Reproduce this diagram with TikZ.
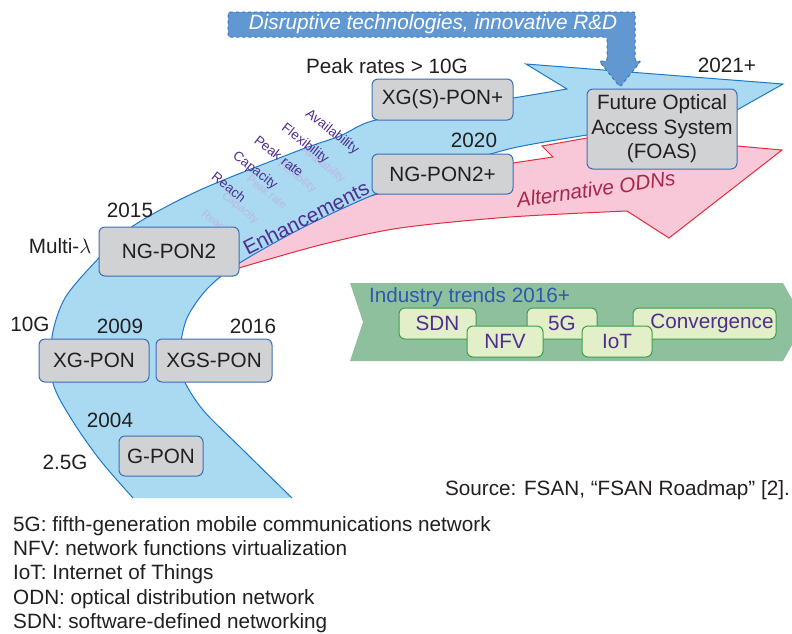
\documentclass[tikz,border=0pt]{standalone}
\usepackage{fontspec}
\setmainfont{Liberation Sans}
\definecolor{bandfill}{RGB}{170,217,242}
\definecolor{bandline}{RGB}{30,120,200}
\definecolor{pinkfill}{RGB}{248,200,216}
\definecolor{pinkline}{RGB}{225,45,60}
\definecolor{bannerfill}{RGB}{98,152,210}
\definecolor{bannerline}{RGB}{60,115,190}
\definecolor{boxgray}{RGB}{209,210,212}
\definecolor{boxline}{RGB}{60,110,180}
\definecolor{chev}{RGB}{143,192,157}
\definecolor{pillfill}{RGB}{226,239,200}
\definecolor{pillline}{RGB}{60,160,75}
\definecolor{purp}{RGB}{80,45,145}
\definecolor{ghost}{RGB}{185,185,222}
\definecolor{trendblue}{RGB}{45,90,170}
\definecolor{odn}{RGB}{165,40,75}
\definecolor{txt}{RGB}{35,31,32}
\newcommand\fsA{\fontsize{20.7}{24.5}\selectfont}
\newcommand\fsS{\fontsize{13.5}{15}\selectfont}
\newcommand\fsG{\fontsize{11}{12}\selectfont}
\begin{document}
\begin{tikzpicture}[x=1pt,y=-1pt,
  gbox/.style={draw=boxline, fill=boxgray, rounded corners=6pt, line width=1pt, inner sep=0pt, font=\fsA, text=txt, align=center},
  lbl/.style={font=\fsA, text=txt, inner sep=0pt, anchor=base},
  pill/.style={draw=pillline, fill=pillfill, rounded corners=6pt, line width=1pt, inner sep=0pt, font=\fsA, text=purp, minimum height=31pt},
  enh/.style={font=\fsS, text=purp, rotate=-38, inner sep=0pt},
  ghst/.style={font=\fsG, text=ghost, rotate=-38, inner sep=0pt},
  leg/.style={font=\fsA, text=txt, inner sep=0pt, anchor=base west}]
\useasboundingbox (0,0) rectangle (792,633);
\fill[white] (0,0) rectangle (792,633);

% pink arrow (alternative ODNs)
\draw[fill=pinkfill, draw=pinkline, line width=1pt]
  (232,262) -- plot[smooth] coordinates {(232,270) (320,245) (400,228) (510,217) (627,211)}
  -- (669,238) -- (782,150) -- (737,146) -- (587,138) -- (542,146) -- (553,157) -- (513,163)
  -- (440,178) -- (370,196) -- (300,226) -- cycle;

% blue band (enhancements)
\draw[fill=bandfill, draw=bandline, line width=1pt]
  (292,498) -- plot[smooth] coordinates {(292,498) (240,447) (203,410) (183,378) (180,350) (187,318) (207,289) (238,264) (300,229) (373,195) (450,167) (513,148) (587,135)}
  -- (660,128) -- (705,128) -- (783,84) -- (526,64) -- (567,89)
  -- plot[smooth] coordinates {(567,89) (513,98) (440,109) (372,121) (340,136) (300,150) (200,190) (133,226) (97,260) (65,298) (52,337) (53,383) (72,420) (100,460) (133,498)};

% ghost enhancement labels
\node[ghst] (gh1) at (216,222) {Reach};
\node[ghst] (gh2) at (240,208) {Capacity};
\node[ghst] (gh3) at (267,192) {Peak rate};
\node[ghst] (gh4) at (297,177) {Flexibility};
\node[ghst] (gh5) at (323,165) {Availability};
% enhancement labels
\node[enh] (en1) at (229,187) {Reach};
\node[enh] (en2) at (255,171) {Capacity};
\node[enh] (en3) at (279,156) {Peak rate};
\node[enh] (en4) at (305,144) {Flexibility};
\node[enh] (en5) at (332,132) {Availability};
\node[font=\fsA, text=purp, rotate=27, inner sep=0pt] (enhance) at (306,218) {Enhancements};
\node[font=\fsA\itshape, text=odn, rotate=8, inner sep=0pt] (altodn) at (596,189) {Alternative ODNs};

% disruptive banner
\draw[fill=bannerfill, draw=bannerline, dashed, line width=1pt, rounded corners=2pt]
  (228,12) -- (635,12) -- (635,61) -- (641,61) -- (620,87) -- (599,61) -- (607,61) -- (607,37) -- (228,37) -- cycle;
\node[font=\fsA\itshape, text=white, inner sep=0pt] (disr) at (433,24) {Disruptive technologies, innovative R\&D};

% technology boxes
\node[gbox, minimum width=84pt, minimum height=40pt] (gpon) at (161,456) {G-PON};
\node[gbox, minimum width=110pt, minimum height=43pt] (xgpon) at (94,360.5) {XG-PON};
\node[gbox, minimum width=116pt, minimum height=43pt] (xgspon) at (214,360.5) {XGS-PON};
\node[gbox, minimum width=140pt, minimum height=49pt] (ngpon2) at (169,251.5) {NG-PON2};
\node[gbox, minimum width=141pt, minimum height=41pt] (xgsplus) at (442.5,99.5) {XG(S)-PON+};
\node[gbox, minimum width=141pt, minimum height=40pt] (ngplus) at (442.5,174) {NG-PON2+};
\node[gbox, minimum width=150pt, minimum height=80pt] (foas) at (662,129) {Future Optical\\Access System\\(FOAS)};

% labels
\node[lbl] (peak) at (387,73) {Peak rates > 10G};
\node[lbl] (y2020) at (474,147) {2020};
\node[lbl] (y2021) at (727,72) {2021+};
\node[lbl] (y2015) at (130,217) {2015};
\node[lbl] (multi) at (60,253) {Multi-$\lambda$};
\node[lbl] (g10) at (30,331) {10G};
\node[lbl] (y2009) at (120,333) {2009};
\node[lbl] (y2016) at (253,333) {2016};
\node[lbl] (y2004) at (110,427) {2004};
\node[lbl] (g25) at (65,469) {2.5G};

% industry trends
\fill[chev] (350,283) -- (783,283) -- (805,322) -- (783,361) -- (350,361) -- (363,322) -- cycle;
\node[font=\fsA, text=trendblue, inner sep=0pt, anchor=base west] (trend) at (369,302) {Industry trends 2016+};
\node[pill, minimum width=77pt] (sdn) at (437.5,323.5) {SDN};
\node[pill, minimum width=70pt] (fiveg) at (562,323.5) {5G};
\node[pill, minimum width=143pt] (conv) at (704.5,323.5) {\hspace*{15pt}Convergence};
\node[pill, minimum width=76pt] (nfv) at (505,341.5) {NFV};
\node[pill, minimum width=70pt] (iot) at (617,341.5) {IoT};

% source and legend
\node[lbl, anchor=base east] (src) at (790,495) {Source: FSAN, “FSAN Roadmap” [2].};
\node[leg] (leg1) at (13,531) {5G: fifth-generation mobile communications network};
\node[leg] (leg2) at (13,555) {NFV: network functions virtualization};
\node[leg] (leg3) at (13,579) {IoT: Internet of Things};
\node[leg] (leg4) at (13,604) {ODN: optical distribution network};
\node[leg] (leg5) at (13,628) {SDN: software-defined networking};
\end{tikzpicture}
\end{document}
